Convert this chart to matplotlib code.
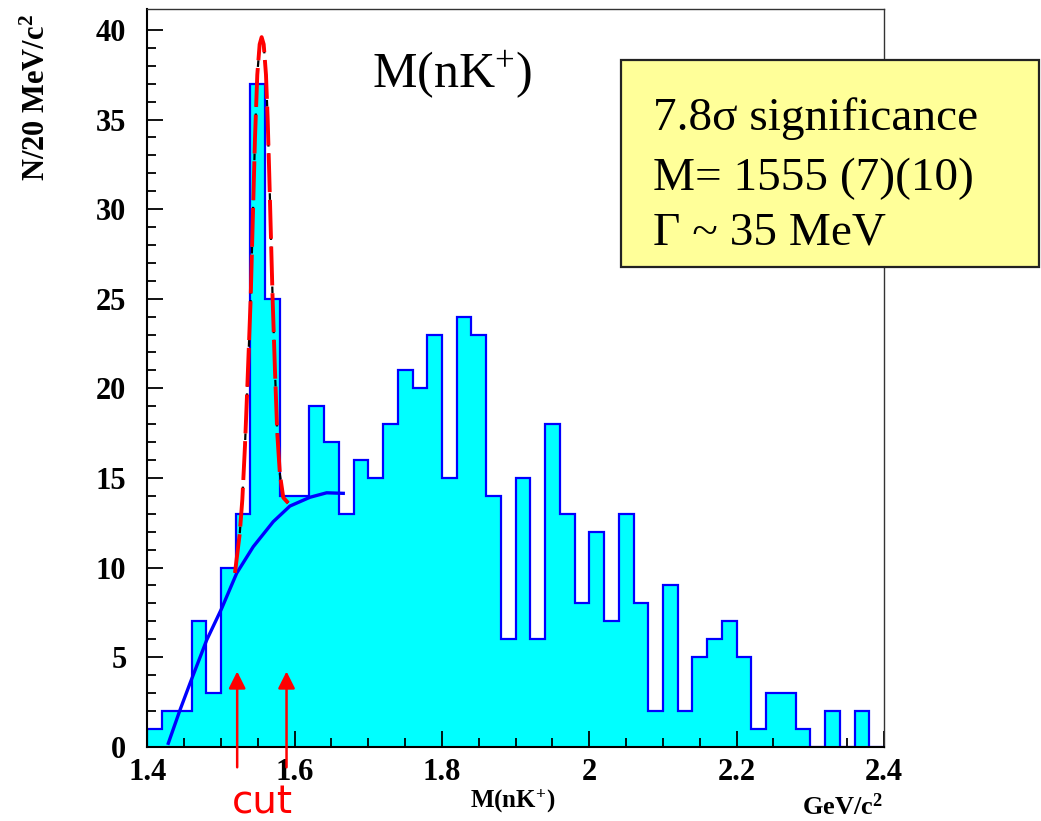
#!python3
# M(nK+) invariant mass histogram with fit and cut arrows

import numpy as np
import matplotlib
matplotlib.use("Agg")
import matplotlib.pyplot as plt
from matplotlib.patches import Rectangle

# bin edges (20 MeV bins) and counts
bin_lo = 1.40
bin_w = 0.02
counts = [1, 2, 2, 7, 3, 10, 13, 37, 25, 14,
          14, 19, 17, 13, 16, 15, 18, 21, 20, 23,
          15, 24, 23, 14, 6, 15, 6, 18, 13, 8,
          12, 7, 13, 8, 2, 9, 2, 5, 6, 7,
          5, 1, 3, 3, 1, 0, 2, 0, 2, 0]

# background fit curve (blue)
bg_x = [1.4285, 1.4444, 1.458, 1.4806, 1.501, 1.5213, 1.5438, 1.571,
        1.5936, 1.6208, 1.6434, 1.666]
bg_y = [0.19, 2.05, 3.54, 5.95, 7.72, 9.68, 11.16, 12.56,
        13.43, 13.92, 14.17, 14.14]

# signal + background fit curve (red / black dashed)
pk_x = [1.519, 1.5255, 1.529, 1.5326, 1.5357, 1.5403, 1.5439, 1.5462,
        1.5493, 1.5525, 1.5552, 1.558, 1.5611, 1.5634, 1.5655, 1.5701,
        1.5733, 1.5764, 1.580, 1.5846, 1.5913]
pk_y = [9.7, 11.9, 13.8, 16.8, 20.0, 25.0, 30.5, 34.0,
        37.5, 39.2, 39.6, 39.2, 37.5, 35.0, 32.0, 25.0,
        21.0, 17.5, 15.2, 13.9, 13.6]

cut_x = [1.522, 1.589]
box_lines = ["7.8\u03c3 significance", "M= 1555 (7)(10)", "\u0393 ~ 35 MeV"]

plt.rcParams["mathtext.fontset"] = "custom"
plt.rcParams["mathtext.rm"] = "Liberation Serif"
plt.rcParams["mathtext.bf"] = "Liberation Serif:bold"
plt.rcParams["mathtext.it"] = "Liberation Serif:italic"

W, H = 1041, 821
fig = plt.figure(figsize=(W / 100, H / 100), dpi=100)
ax = fig.add_axes([147.3 / W, 1 - 746.7 / H, (884 - 147.3) / W, (746.7 - 9) / H])

edges = bin_lo + bin_w * np.arange(len(counts) + 1)
ax.stairs(counts, edges, fill=True, color="#00ffff", zorder=1)
ax.stairs(counts, edges, color="#0000ff", linewidth=1.6, zorder=2)

ax.plot(bg_x, bg_y, color="#0000ff", linewidth=2.4, zorder=3)
ax.plot(pk_x, pk_y, color="black", linewidth=1.6, dashes=(3, 3), zorder=4)
ax.plot(pk_x, pk_y, color="red", linewidth=2.8, dashes=(10, 2), zorder=5)

ax.set_xlim(1.4, 2.4)
ax.set_ylim(0, 41.17)

ax.set_xticks([1.4, 1.6, 1.8, 2.0, 2.2, 2.4])
ax.set_xticklabels(["1.4", "1.6", "1.8", "2", "2.2", "2.4"])
ax.set_xticks(np.arange(1.4, 2.401, 0.05), minor=True)
ax.set_yticks(np.arange(0, 41, 5))
ax.set_yticks(np.arange(0, 41, 1), minor=True)

for lab in ax.get_xticklabels() + ax.get_yticklabels():
    lab.set_fontfamily("Liberation Serif")
    lab.set_fontweight("bold")
    lab.set_fontsize(22)

ax.tick_params(which="major", direction="in", length=11.5, width=1.3)
ax.tick_params(which="minor", direction="in", length=6.5, width=1.3)
ax.tick_params(axis="y", which="both", pad=15)
ax.tick_params(axis="x", which="both", pad=8)

for s in ["left", "bottom"]:
    ax.spines[s].set_linewidth(1.5)
for s in ["top", "right"]:
    ax.spines[s].set_linewidth(1.0)
    ax.spines[s].set_color("#333333")
for s in ax.spines.values():
    s.set_zorder(6)

# cut arrows
for cx in cut_x:
    ax.annotate("", xy=(cx, 4.2), xytext=(cx, -1.15),
                arrowprops=dict(arrowstyle="-|>,head_length=0.6,head_width=0.3",
                                color="red", lw=1.8, mutation_scale=17,
                                shrinkA=0, shrinkB=0, clip_on=False),
                annotation_clip=False, zorder=7)

fig.text(262 / W, 1 - 813 / H, "cut", color="red", fontsize=28,
         family="DejaVu Sans", ha="center", va="baseline")

# titles
ax.text(1.705, 36.8, r"M(nK$^{+}$)", fontsize=36, family="Liberation Serif",
        ha="left", va="baseline")
fig.text(513 / W, 1 - 808 / H, r"M(nK$^\mathbf{+}$)", fontsize=18,
         family="Liberation Serif", fontweight="bold", ha="center", va="baseline")
fig.text(883 / W, 1 - 815 / H, r"GeV/c$^\mathbf{2}$", fontsize=19,
         family="Liberation Serif", fontweight="bold", ha="right", va="baseline")
fig.text(52 / W, 1 - 14 / H, r"N/20 MeV/c$^\mathbf{2}$", fontsize=22,
         family="Liberation Serif", fontweight="bold", rotation=90,
         ha="right", va="top")

# yellow info box
fig.patches.append(Rectangle((621 / W, 1 - 267 / H), (1039 - 621) / W, (267 - 60) / H,
                             transform=fig.transFigure, facecolor="#ffff99",
                             edgecolor="#222222", linewidth=1.6, zorder=8))
for line, py in zip(box_lines, [130, 190, 244]):
    fig.text(653 / W, 1 - py / H, line, fontsize=34, family="Liberation Serif",
             ha="left", va="baseline", zorder=9)

fig.savefig("out.png", dpi=100)
